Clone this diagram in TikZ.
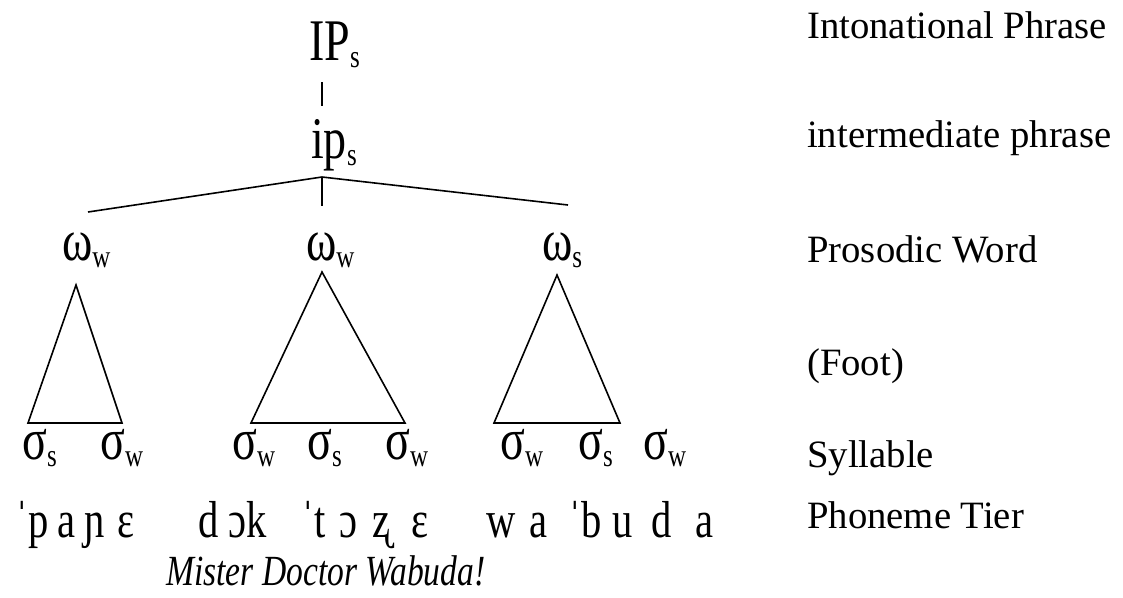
\documentclass[tikz,border=0pt]{standalone}
\usepackage{fontspec}
\setmainfont{Liberation Serif}
\newfontfamily\treefont[FakeStretch=0.78]{Liberation Serif}
\newcommand{\lowsub}[1]{\raisebox{-7pt}{\fontsize{32}{32}\selectfont #1}}
\usetikzlibrary{positioning}

\begin{document}
\begin{tikzpicture}[
    x=1pt, y=-1pt,
    tree/.style={font=\treefont\fontsize{59}{60}\selectfont,
                 inner sep=0pt, anchor=base west},
    seg/.style={font=\treefont\fontsize{52}{54}\selectfont,
                inner sep=0pt, anchor=base west},
    gloss/.style={font=\treefont\itshape\fontsize{43}{44}\selectfont,
                  inner sep=0pt, anchor=base west},
    tier/.style={font=\fontsize{38.7}{40}\selectfont,
                 inner sep=0pt, anchor=base west},
    branch/.style={line width=1.6pt},
    foot/.style={line width=1.6pt, line join=miter}
]
\useasboundingbox (0,0) rectangle (1123,597);

% ── Phrase levels ──
\node[tree] (IP) at (309,60) {IP\lowsub{s}};
\node[tree] (ip) at (311,158) {ip\lowsub{s}};
\coordinate (IPtick) at (322,82);
\coordinate (iptick) at (322,106);
\draw[branch] (IPtick) -- (iptick);

% ── Prosodic words ──
\node[tree] (wordA) at (62,260) {ω\lowsub{w}};
\node[tree] (wordB) at (306,260) {ω\lowsub{w}};
\node[tree] (wordC) at (542,260) {ω\lowsub{s}};

\coordinate (fork) at (322,177);
\coordinate (forkA) at (88,212);
\coordinate (forkB) at (322,206);
\coordinate (forkC) at (568,205);
\draw[branch] (forkA) -- (fork) -- (forkC);
\draw[branch] (fork) -- (forkB);

% ── Feet ──
\draw[foot] (76,285) -- (122,423) -- (28,423) -- cycle;
\draw[foot] (322,272) -- (405,423) -- (251,423) -- cycle;
\draw[foot] (557,275) -- (620,423) -- (494,423) -- cycle;

% ── Syllables ──
\node[tree] (syl1) at (22,459) {σ\lowsub{s}};
\node[tree] (syl2) at (100,459) {σ\lowsub{w}};
\node[tree] (syl3) at (232,459) {σ\lowsub{w}};
\node[tree] (syl4) at (307,459) {σ\lowsub{s}};
\node[tree] (syl5) at (385,459) {σ\lowsub{w}};
\node[tree] (syl6) at (500,459) {σ\lowsub{w}};
\node[tree] (syl7) at (578,459) {σ\lowsub{s}};
\node[tree] (syl8) at (643,459) {σ\lowsub{w}};

% ── Phonemes ──
\foreach \x/\t [count=\i] in {15/ˈp, 57/a, 84/ɲ, 117/ɛ,
    198/d, 228/ɔk, 301/ˈt, 339/ɔ, 372/ʐ, 411/ɛ,
    486/w, 529/a, 568/ˈb, 612/u, 651/d, 695/a}
  \node[seg] (seg\i) at (\x,537) {\t};
\node[gloss] (gloss) at (166,585) {Mister Doctor Wabuda!};

% ── Tier names ──
\node[tier] (tIP) at (807,38) {Intonational Phrase};
\node[tier] (tip) at (807,147) {intermediate phrase};
\node[tier] (tpw) at (807,262) {Prosodic Word};
\node[tier] (tft) at (807,375) {(Foot)};
\node[tier] (tsy) at (807,467) {Syllable};
\node[tier] (tph) at (807,528) {Phoneme Tier};

\end{tikzpicture}
\end{document}
